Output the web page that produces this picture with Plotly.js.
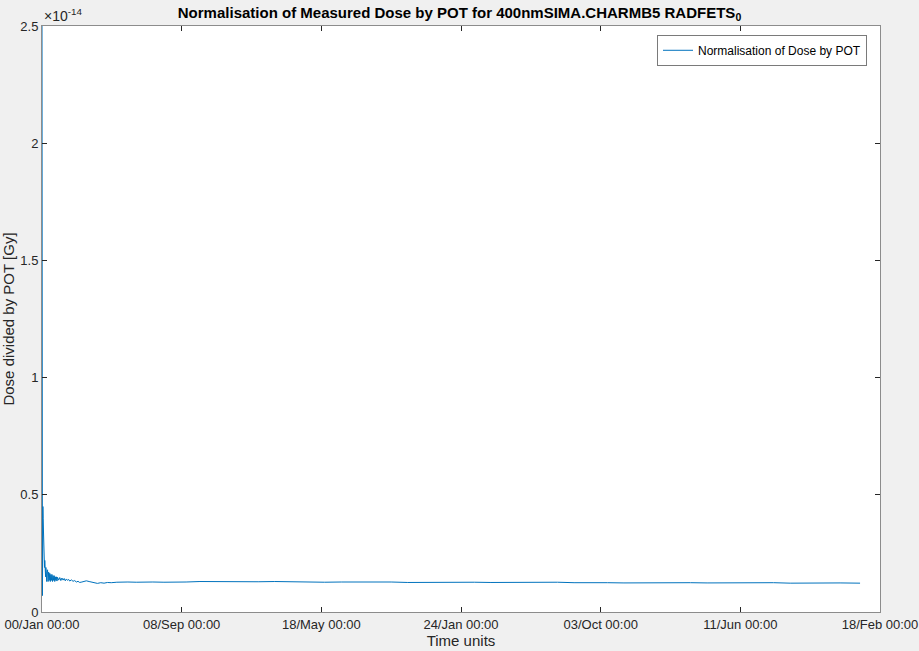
<!DOCTYPE html>
<html>
<head>
<meta charset="utf-8">
<script src="https://cdn.plot.ly/plotly-3.0.1.min.js"></script>
<style>html,body{margin:0;padding:0;background:#f0f0f0;}#chart{width:919px;height:651px;}</style>
</head>
<body>
<div id="chart"></div>
<script>
// time units (x) and dose/POT values in units of 1e-14 Gy (y)
const timeUnits = [0, 0.4, 0.8, 1.2, 1.6, 2.0, 2.5, 3.0, 3.5, 4.0, 4.5, 5.0, 5.5, 6.0, 6.5, 7.0, 7.5, 8.0, 8.5, 9.0, 9.5, 10, 11, 12, 13, 14, 15, 16, 17, 18, 19, 20, 21, 22, 23, 24, 25, 26, 27, 28, 30, 32, 34, 36, 38, 40, 42, 44, 46, 48, 50, 53, 56, 59, 62, 65, 68, 72, 76, 80, 85, 90, 95, 100, 106, 112, 118, 125, 135, 145, 155, 170, 185, 200, 220, 240, 260, 285, 310, 335, 360, 390, 420, 450, 480, 510, 540, 570, 600, 630, 660, 690, 720, 750, 780, 810, 840, 870, 900, 930, 960, 990, 1020, 1050, 1080, 1110, 1140, 1170, 1200, 1230, 1260, 1290, 1320, 1350, 1380, 1410, 1440, 1476];
const dosePerPOT = [2.56, 1.07, 0.07, 0.62, 0.45, 0.40, 0.31, 0.28, 0.22, 0.25, 0.19, 0.22, 0.17, 0.20, 0.15, 0.19, 0.14, 0.18, 0.13, 0.17, 0.14, 0.18, 0.13, 0.17, 0.135, 0.165, 0.13, 0.16, 0.135, 0.16, 0.13, 0.155, 0.135, 0.155, 0.13, 0.15, 0.135, 0.15, 0.132, 0.148, 0.136, 0.147, 0.134, 0.145, 0.136, 0.143, 0.133, 0.141, 0.135, 0.139, 0.132, 0.137, 0.131, 0.134, 0.128, 0.131, 0.126, 0.128, 0.131, 0.133, 0.130, 0.127, 0.124, 0.122, 0.125, 0.123, 0.126, 0.125, 0.127, 0.126, 0.128, 0.127, 0.129, 0.128, 0.127, 0.129, 0.128, 0.130, 0.129, 0.130, 0.128, 0.129, 0.130, 0.128, 0.129, 0.127, 0.128, 0.129, 0.127, 0.128, 0.126, 0.127, 0.128, 0.126, 0.127, 0.126, 0.127, 0.125, 0.126, 0.127, 0.125, 0.126, 0.125, 0.124, 0.125, 0.126, 0.124, 0.125, 0.124, 0.125, 0.123, 0.124, 0.125, 0.123, 0.124, 0.123, 0.124, 0.123];
const tickValues = [0, 252, 504, 756, 1008, 1260, 1512];
const tickLabels = ["00/Jan 00:00", "08/Sep 00:00", "18/May 00:00", "24/Jan 00:00", "03/Oct 00:00", "11/Jun 00:00", "18/Feb 00:00"];
const yTickValues = [0, 0.5, 1, 1.5, 2, 2.5];
const yTickLabels = ["0", "0.5", "1", "1.5", "2", "2.5"];

const font = "Liberation Sans, Arial, Helvetica, sans-serif";
const trace = {
  x: timeUnits, y: dosePerPOT, type: 'scatter', mode: 'lines',
  name: 'Normalisation of Dose by POT',
  line: {color: '#0072BD', width: 1}
};
const axisCommon = {
  showgrid: false, zeroline: false, showline: true, linecolor: '#8c8c8c', linewidth: 1,
  mirror: 'ticks', ticks: 'inside', ticklen: 5, tickcolor: '#262626', tickwidth: 1,
  tickfont: {family: font, size: 13, color: '#262626'}
};
const layout = {
  width: 919, height: 651,
  paper_bgcolor: '#f0f0f0', plot_bgcolor: '#ffffff',
  margin: {l: 42, r: 39, t: 26, b: 39},
  title: {text: '<b>Normalisation of Measured Dose by POT for 400nmSIMA.CHARMB5 RADFETS<sub>0</sub></b>',
          font: {family: font, size: 15, color: '#000'}, x: 0.5, xanchor: 'center', yref: 'container', y: 0.988, yanchor: 'top'},
  xaxis: Object.assign({}, axisCommon, {
    range: [0, 1512], tickmode: 'array', tickvals: tickValues, ticktext: tickLabels,
    title: {text: 'Time units', font: {family: font, size: 15, color: '#262626'}, standoff: 2}
  }),
  yaxis: Object.assign({}, axisCommon, {
    range: [0, 2.5], tickmode: 'array', tickvals: yTickValues, ticktext: yTickLabels,
    title: {text: 'Dose divided by POT [Gy]', font: {family: font, size: 15, color: '#262626'}, standoff: 6}
  }),
  showlegend: true,
  legend: {x: 0.9845, xanchor: 'right', y: 0.985, yanchor: 'top', bgcolor: '#ffffff',
           bordercolor: '#7a7a7a', borderwidth: 1, font: {family: font, size: 12, color: '#000'}},
  annotations: [{text: '×10<sup>-14</sup>', xref: 'paper', yref: 'paper', x: 0, y: 1, xanchor: 'left', yanchor: 'bottom',
                 showarrow: false, font: {family: font, size: 14, color: '#262626'}}]
};
Plotly.newPlot('chart', [trace], layout, {displayModeBar: false, staticPlot: true});
</script>
</body>
</html>
